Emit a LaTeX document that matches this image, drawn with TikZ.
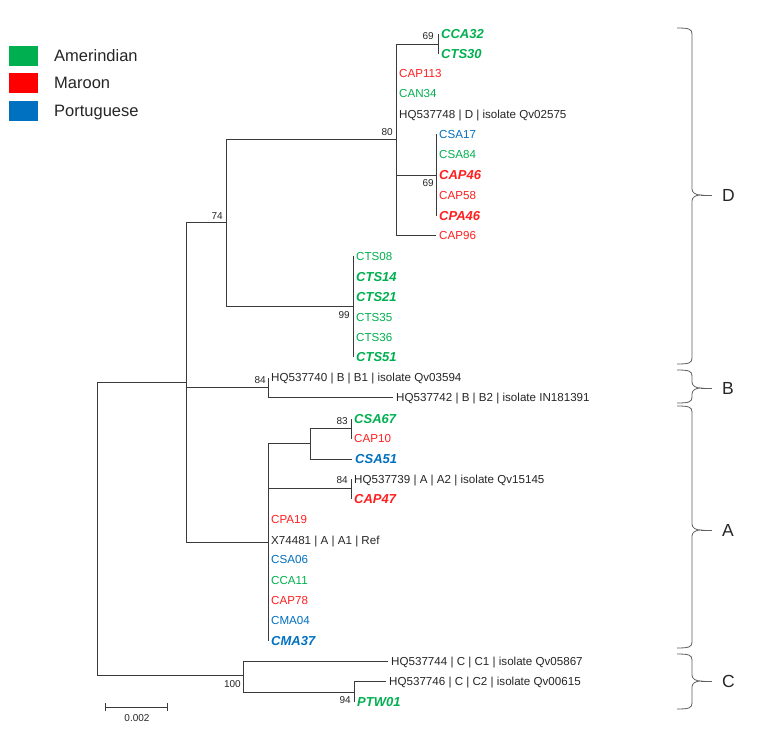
\documentclass[tikz,border=0pt]{standalone}
\usepackage{fontspec}
\setmainfont{Liberation Sans}
\definecolor{amer}{HTML}{00B050}
\definecolor{maro}{HTML}{FF1F1F}
\definecolor{port}{HTML}{0070C0}
\definecolor{ink}{HTML}{262626}
\definecolor{linec}{HTML}{3A3A3A}
\definecolor{bracec}{HTML}{606060}
\tikzset{
  tree/.style={draw=linec, line width=0.8pt},
  leaf/.style={anchor=west, inner xsep=3pt, inner ysep=0pt, text=ink,
    font=\fontsize{11.6}{13}\selectfont, text height=8.3pt, text depth=0pt},
  bx/.style={font=\fontsize{13}{15}\selectfont\bfseries\itshape, text height=9.3pt},
  am/.style={text=amer}, ma/.style={text=maro}, po/.style={text=port},
  boot/.style={anchor=east, inner sep=0pt, text=ink, font=\fontsize{10}{12}\selectfont,
    text height=7.2pt, text depth=0pt},
  bracepath/.style={draw=bracec, line width=0.8pt},
  clade/.style={anchor=west, inner sep=0pt, text=ink, font=\fontsize{17.5}{20}\selectfont,
    text height=12.5pt, text depth=0pt},
  legsq/.style={minimum width=29pt, minimum height=20pt, inner sep=0pt, draw=none},
  legtx/.style={anchor=west, inner sep=0pt, text=ink, font=\fontsize{16.5}{19}\selectfont,
    text height=11.8pt, text depth=0pt}
}
\begin{document}
\begin{tikzpicture}[x=1pt,y=-1pt]
\useasboundingbox (0,0) rectangle (765,731);
\fill[white] (0,0) rectangle (765,731);
% legend
\node[legsq, fill=amer] (sqA) at (23.5,56) {};
\node[legsq, fill=red] (sqM) at (23.5,83) {};
\node[legsq, fill=port] (sqP) at (23.5,110.5) {};
\node[legtx] (tA) at (54,56) {Amerindian};
\node[legtx] (tM) at (54,83) {Maroon};
\node[legtx] (tP) at (54,110.5) {Portuguese};
% internal nodes
\coordinate (r) at (97,528);
\coordinate (n186) at (186,382);
\coordinate (n226) at (226,222);
\coordinate (n80) at (396,139);
\coordinate (n69a) at (438,44);
\coordinate (n69b) at (436,175);
\coordinate (nCTS) at (353,306);
\coordinate (nB) at (268,387);
\coordinate (nA) at (268,542);
\coordinate (nA1) at (310,443);
\coordinate (n83) at (351,428);
\coordinate (nA2) at (351,488);
\coordinate (nC) at (243,675);
\coordinate (n94) at (354,692);
% leaves clade D
\node[leaf,bx,am] (CCA32) at (438,34) {CCA32};
\node[leaf,bx,am] (CTS30) at (438,54) {CTS30};
\node[leaf,ma] (CAP113) at (396,73.5) {CAP113};
\node[leaf,am] (CAN34) at (396,93.5) {CAN34};
\node[leaf] (HQ748) at (396,114) {HQ537748 | D | isolate Qv02575};
\node[leaf,po] (CSA17) at (436,134) {CSA17};
\node[leaf,am] (CSA84) at (436,154.5) {CSA84};
\node[leaf,bx,ma] (CAP46) at (436,175) {CAP46};
\node[leaf,ma] (CAP58) at (436,195) {CAP58};
\node[leaf,bx,ma] (CPA46) at (436,215.5) {CPA46};
\node[leaf,ma] (CAP96) at (436,235) {CAP96};
\node[leaf,am] (CTS08) at (353,256) {CTS08};
\node[leaf,bx,am] (CTS14) at (353,276.5) {CTS14};
\node[leaf,bx,am] (CTS21) at (353,297) {CTS21};
\node[leaf,am] (CTS35) at (353,317) {CTS35};
\node[leaf,am] (CTS36) at (353,337) {CTS36};
\node[leaf,bx,am] (CTS51) at (353,357) {CTS51};
% clade B
\node[leaf] (HQ740) at (268,377.5) {HQ537740 | B | B1 | isolate Qv03594};
\node[leaf] (HQ742) at (393,397) {HQ537742 | B | B2 | isolate IN181391};
% clade A
\node[leaf,bx,am] (CSA67) at (351,418.5) {CSA67};
\node[leaf,ma] (CAP10) at (351,438.5) {CAP10};
\node[leaf,bx,po] (CSA51) at (352,459) {CSA51};
\node[leaf] (HQ739) at (351,479) {HQ537739 | A | A2 | isolate Qv15145};
\node[leaf,bx,ma] (CAP47) at (351,499) {CAP47};
\node[leaf,ma] (CPA19) at (268,519.5) {CPA19};
\node[leaf] (X74481) at (268,540) {X74481 | A | A1 | Ref};
\node[leaf,po] (CSA06) at (268,559.5) {CSA06};
\node[leaf,am] (CCA11) at (268,580) {CCA11};
\node[leaf,ma] (CAP78) at (268,600) {CAP78};
\node[leaf,po] (CMA04) at (268,620) {CMA04};
\node[leaf,bx,po] (CMA37) at (268,641) {CMA37};
% clade C
\node[leaf] (HQ744) at (388,661) {HQ537744 | C | C1 | isolate Qv05867};
\node[leaf] (HQ746) at (386,681) {HQ537746 | C | C2 | isolate Qv00615};
\node[leaf,bx,am] (PTW01) at (354,702) {PTW01};
% branches
\draw[tree] (r) |- (n186) (r) |- (nC);
\draw[tree] (n186) |- (n226) (n186) |- (nB) (n186) |- (nA);
\draw[tree] (n226) |- (n80) (n226) |- (nCTS);
\draw[tree] (n80) |- (n69a) (n80) |- (CAP113.west) (n80) |- (CAN34.west)
  (n80) |- (HQ748.west) (n80) |- (n69b) (n80) |- (CAP96.west);
\draw[tree] (n69a) |- (CCA32.west) (n69a) |- (CTS30.west);
\draw[tree] (n69b) |- (CSA17.west) (n69b) |- (CPA46.west);
\draw[tree] (nCTS) |- (CTS08.west) (nCTS) |- (CTS51.west);
\draw[tree] (nB) |- (HQ740.west) (nB) |- (HQ742.west);
\draw[tree] (nA) |- (nA1) (nA) |- (nA2) (nA) |- (CMA37.west);
\draw[tree] (nA1) |- (n83) (nA1) |- (CSA51.west);
\draw[tree] (n83) |- (CSA67.west) (n83) |- (CAP10.west);
\draw[tree] (nA2) |- (HQ739.west) (nA2) |- (CAP47.west);
\draw[tree] (nC) |- (HQ744.west) (nC) |- (n94);
\draw[tree] (n94) |- (HQ746.west) (n94) |- (PTW01.west);
% bootstrap values
\node[boot] (b69a) at (434,36) {69};
\node[boot] (b80) at (393,132) {80};
\node[boot] (b69b) at (434,183) {69};
\node[boot] (b74) at (223,216) {74};
\node[boot] (b99) at (350,315) {99};
\node[boot] (b84a) at (266,380) {84};
\node[boot] (b83) at (348,421) {83};
\node[boot] (b84b) at (348,480) {84};
\node[boot] (b100) at (241,684) {100};
\node[boot] (b94) at (351,700) {94};
% scale bar
\coordinate (sbL) at (105,707);
\coordinate (sbR) at (167,707);
\draw[tree] (sbL) -- (sbR);
\draw[tree] ([yshift=-4pt]sbL) -- ([yshift=4pt]sbL);
\draw[tree] ([yshift=-4pt]sbR) -- ([yshift=4pt]sbR);
\node[boot, anchor=center] (sbT) at (137,718) {0.002};
% braces
\foreach \ya/\yt/\yb/\lab in {28/195/364/D, 370/388/403/B, 406/530/648/A, 654/681/709/C}{
  \draw[bracepath] (677,\ya) .. controls (689,\ya) and (692,\ya+1) .. (692,\ya+6)
    -- (692,\yt-6) .. controls (692,\yt-2) and (696,\yt) .. (701,\yt)
    .. controls (696,\yt) and (692,\yt+2) .. (692,\yt+6)
    -- (692,\yb-6) .. controls (692,\yb-1) and (689,\yb) .. (677,\yb);
  \draw[bracepath] (701,\yt) -- (712,\yt);
  \node[clade] (clade\lab) at (722,\yt) {\lab};
}
\end{tikzpicture}
\end{document}
